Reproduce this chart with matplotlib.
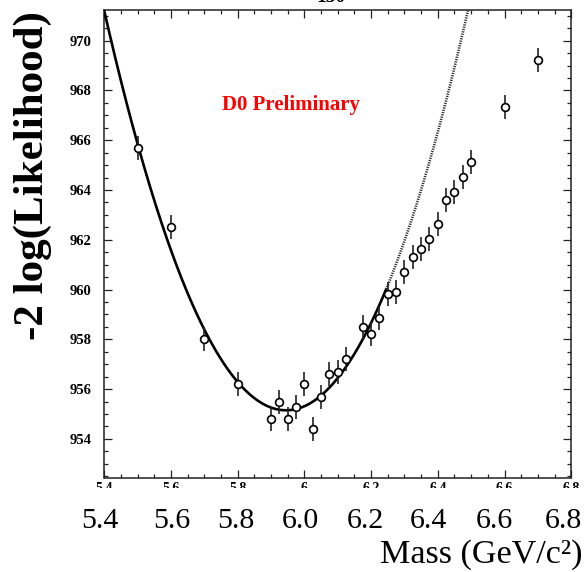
import numpy as np
import matplotlib
matplotlib.use("Agg")
import matplotlib.pyplot as plt
from matplotlib.ticker import MultipleLocator, FixedLocator
from matplotlib.transforms import blended_transform_factory, ScaledTranslation
from matplotlib.patches import Rectangle

# ---------------- data ----------------
mass = [5.5, 5.6, 5.7, 5.8, 5.9, 5.925, 5.95, 5.975, 6.0, 6.025, 6.05,
        6.075, 6.1, 6.125, 6.175, 6.2, 6.225, 6.25, 6.275, 6.3, 6.325,
        6.35, 6.375, 6.4, 6.425, 6.45, 6.475, 6.5, 6.6, 6.7]
likelihood = [965.7, 962.5, 958.0, 956.2, 954.8, 955.5, 954.8, 955.3, 956.2,
              954.4, 955.7, 956.6, 956.7, 957.2, 958.5, 958.2, 958.85, 959.83,
              959.92, 960.72, 961.32, 961.62, 962.02, 962.63, 963.6, 963.91,
              964.53, 965.12, 967.33, 969.22]
errors = [0.48] * len(mass)

# parabolic fit
fit_best_mass = 5.945
fit_min_value = 955.15
fit_curvature = 54.0
fit_solid_end = 6.245

x_ticks = [5.4, 5.6, 5.8, 6.0, 6.2, 6.4, 6.6, 6.8]
x_tick_labels = ["5.4", "5.6", "5.8", "6.0", "6.2", "6.4", "6.6", "6.8"]
x_small_labels = ["5.4", "5.6", "5.8", "6", "6.2", "6.4", "6.6", "6.8"]
y_ticks = [954, 956, 958, 960, 962, 964, 966, 968, 970]

# horizontal nudges (pixels) of the large x tick labels, as in the reference
x_label_nudge_px = [-4, 1, -1.5, -4, -6, -9, -10, -7.5]

# ---------------- figure ----------------
W, H = 586, 572
fig = plt.figure(figsize=(W / 100, H / 100), dpi=100)
serif = ["Liberation Serif", "DejaVu Serif"]

left, right, top, bottom = 104.3, 571.2, 10.3, 477.5
ax = fig.add_axes([left / W, 1 - bottom / H, (right - left) / W, (bottom - top) / H])
ax.set_xlim(5.4, 6.8)
ax.set_ylim(952.45, 971.22)

# fit curve
xs_solid = np.linspace(5.38, fit_solid_end, 300)
xs_dot = np.linspace(fit_solid_end, 6.6, 300)
ax.plot(xs_solid, fit_min_value + fit_curvature * (xs_solid - fit_best_mass) ** 2,
        color="black", lw=1.9, zorder=3)
ax.plot(xs_dot, fit_min_value + fit_curvature * (xs_dot - fit_best_mass) ** 2,
        color="#2e2e2e", lw=1.9, ls=(0, (0.45, 0.45)), zorder=3)

# data points
ax.errorbar(mass, likelihood, yerr=errors, fmt="o", ms=5.6, mfc="white",
            mec="black", mew=1.2, ecolor="#222222", elinewidth=1.2,
            capsize=0, zorder=4)

# ticks
ax.xaxis.set_major_locator(FixedLocator(x_ticks))
ax.xaxis.set_minor_locator(MultipleLocator(0.05))
ax.yaxis.set_major_locator(FixedLocator(y_ticks))
ax.yaxis.set_minor_locator(MultipleLocator(0.5))
ax.tick_params(which="both", direction="in", top=True, right=True, width=0.9,
               color="#222222")
ax.tick_params(which="major", length=5.5)
ax.tick_params(which="minor", length=3)
ax.set_xticklabels(x_tick_labels, fontsize=21.5, family=serif)
ax.tick_params(axis="x", which="major", pad=22)
for lab, dx in zip(ax.get_xticklabels(), x_label_nudge_px):
    lab.set_transform(lab.get_transform() + ScaledTranslation(dx / 100, 0, fig.dpi_scale_trans))
ax.set_yticklabels([str(v) for v in y_ticks], fontsize=10.5, family=serif,
                   fontweight="bold")
ax.tick_params(axis="y", which="major", pad=9)
for s in ax.spines.values():
    s.set_linewidth(1.1)
    s.set_color("#222222")

# small labels just under the axis, mostly hidden (as in the reference)
trans = blended_transform_factory(ax.transData, fig.transFigure)
for xv, lab in zip(x_ticks, x_small_labels):
    ax.text(xv, 1 - 482 / H, lab, transform=trans, ha="center", va="top",
            fontsize=10, fontweight="bold", family=serif, clip_on=False)
fig.add_artist(Rectangle((0, 1 - 506 / H), 1, (506 - 487.5) / H,
                         transform=fig.transFigure, facecolor="white",
                         edgecolor="none", zorder=1))

# annotation
ax.text(0.40, 0.797, "D0 Preliminary", transform=ax.transAxes, color="red",
        fontsize=15, fontweight="bold", family=serif, ha="center", va="center")

# axis labels
fig.text(33 / W, 1 - 176 / H, "-2 log(Likelihood)", rotation=90, ha="center",
         va="center", fontsize=31, fontweight="bold", family=serif)
fig.text(582 / W, 1 - 563 / H, "Mass (GeV/c²)", ha="right", va="baseline",
         fontsize=24.6, family=serif)

# clipped title at top edge
fig.text(331 / W, 1 - 2.5 / H, "150", ha="center", va="baseline", fontsize=14,
         fontweight="bold", family=serif)

fig.savefig("out.png", dpi=100)
